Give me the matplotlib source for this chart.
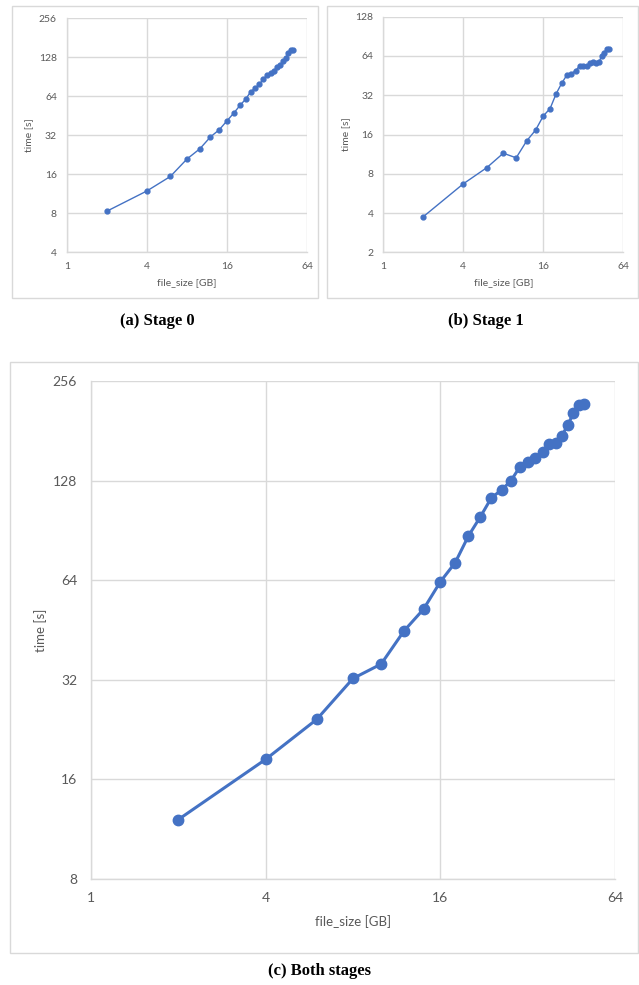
import matplotlib
matplotlib.use('Agg')
import matplotlib.pyplot as plt
from matplotlib.patches import Rectangle
from matplotlib.ticker import FixedLocator, FixedFormatter, NullLocator

plt.rcParams['font.family'] = ['Lato', 'DejaVu Sans']

# file sizes in GB (shared by all panels)
file_size = [2, 4, 6, 8, 10, 12, 14, 16, 18, 20, 22, 24, 26, 28, 30,
             32, 34, 36, 38, 40, 42, 44, 46, 48, 50]
# time [s]
stage0 = [8.3, 11.9, 15.4, 21.0, 25.2, 31.1, 35.4, 41.5, 47.6, 54.5, 60.7, 69.1, 74.2,
          79.2, 87.6, 92.9, 96.9, 101.0, 108.5, 111.0, 120.7, 125.7, 137.4, 145.8, 146.7]
stage1 = [3.75, 6.7, 8.9, 11.5, 10.6, 14.3, 17.3, 22.2, 25.3, 32.9, 39.5, 45.5, 46.9,
          49.4, 53.6, 53.6, 53.2, 56.6, 57.6, 56.2, 57.2, 64.4, 67.8, 72.8, 72.8]
both = [12.1, 18.4, 24.3, 32.3, 35.7, 45.0, 52.3, 63.3, 72.3, 87.1, 99.6, 113.6, 119.9,
        127.7, 140.4, 145.4, 150.1, 155.9, 164.8, 165.9, 174.9, 188.5, 204.5, 216.7, 218.2]

x_ticks = [1, 4, 16, 64]
y_ticks_a = [4, 8, 16, 32, 64, 128, 256]
y_ticks_b = [2, 4, 8, 16, 32, 64, 128]
y_ticks_c = [8, 16, 32, 64, 128, 256]

W, H = 639, 985
fig = plt.figure(figsize=(W / 100, H / 100), dpi=100)
fig.patch.set_facecolor('white')

def px(l, t, r, b):
    return [l / W, 1 - b / H, (r - l) / W, (b - t) / H]

def frame(l, t, r, b):
    fig.patches.append(Rectangle((l / W, 1 - b / H), (r - l) / W, (b - t) / H,
                                 transform=fig.transFigure, fill=False,
                                 edgecolor='#d9d9d9', linewidth=1.0))

BLUE = '#4472C4'
GRAY = '#595959'

def panel(rect, y, yt, fs, lfs, lw, ms, xpad, ypad, xlp, ylp):
    ax = fig.add_axes(rect)
    ax.plot(file_size, y, color=BLUE, linewidth=lw, marker='o', markersize=ms,
            markerfacecolor=BLUE, markeredgecolor=BLUE, zorder=3)
    ax.set_xscale('log', base=2)
    ax.set_yscale('log', base=2)
    ax.set_xlim(x_ticks[0], x_ticks[-1])
    ax.set_ylim(yt[0], yt[-1])
    ax.xaxis.set_major_locator(FixedLocator(x_ticks))
    ax.xaxis.set_major_formatter(FixedFormatter([str(v) for v in x_ticks]))
    ax.yaxis.set_major_locator(FixedLocator(yt))
    ax.yaxis.set_major_formatter(FixedFormatter([str(v) for v in yt]))
    ax.xaxis.set_minor_locator(NullLocator())
    ax.yaxis.set_minor_locator(NullLocator())
    ax.grid(True, color='#d9d9d9', linewidth=1.0)
    ax.set_axisbelow(True)
    for s in ['top', 'right']:
        ax.spines[s].set_visible(False)
    for s in ['left', 'bottom']:
        ax.spines[s].set_color('#d9d9d9')
        ax.spines[s].set_linewidth(1.0)
    ax.tick_params(length=0, labelsize=fs, colors=GRAY)
    ax.tick_params(axis='x', pad=xpad)
    ax.tick_params(axis='y', pad=ypad)
    ax.set_xlabel('file_size [GB]', fontsize=lfs, color=GRAY, labelpad=xlp)
    ax.set_ylabel('time [s]', fontsize=lfs, color=GRAY, labelpad=ylp)
    return ax

frame(12, 6, 318, 298)
frame(327, 6, 638, 298)
frame(10, 362, 638, 953)

panel(px(66.7, 18.3, 307.3, 252.3), stage0, y_ticks_a, 7.5, 7.5, 1.0, 3.5, 7, 7, 5, 4)
panel(px(383.3, 16.7, 623.3, 252.3), stage1, y_ticks_b, 7.5, 7.5, 1.0, 3.5, 7, 7, 5, 4)
panel(px(91, 381, 615, 879), both, y_ticks_c, 10, 9.5, 2.2, 7.5, 9, 10, 8, 4)

cap = dict(fontsize=12, fontweight='bold', family=['Liberation Serif', 'DejaVu Serif'],
           ha='center', va='center')
fig.text(157 / W, 1 - 321 / H, '(a) Stage 0', **cap)
fig.text(486 / W, 1 - 321 / H, '(b) Stage 1', **cap)
fig.text(320 / W, 1 - 971 / H, '(c) Both stages', **cap)

fig.savefig('out.png', dpi=100, facecolor='white')
